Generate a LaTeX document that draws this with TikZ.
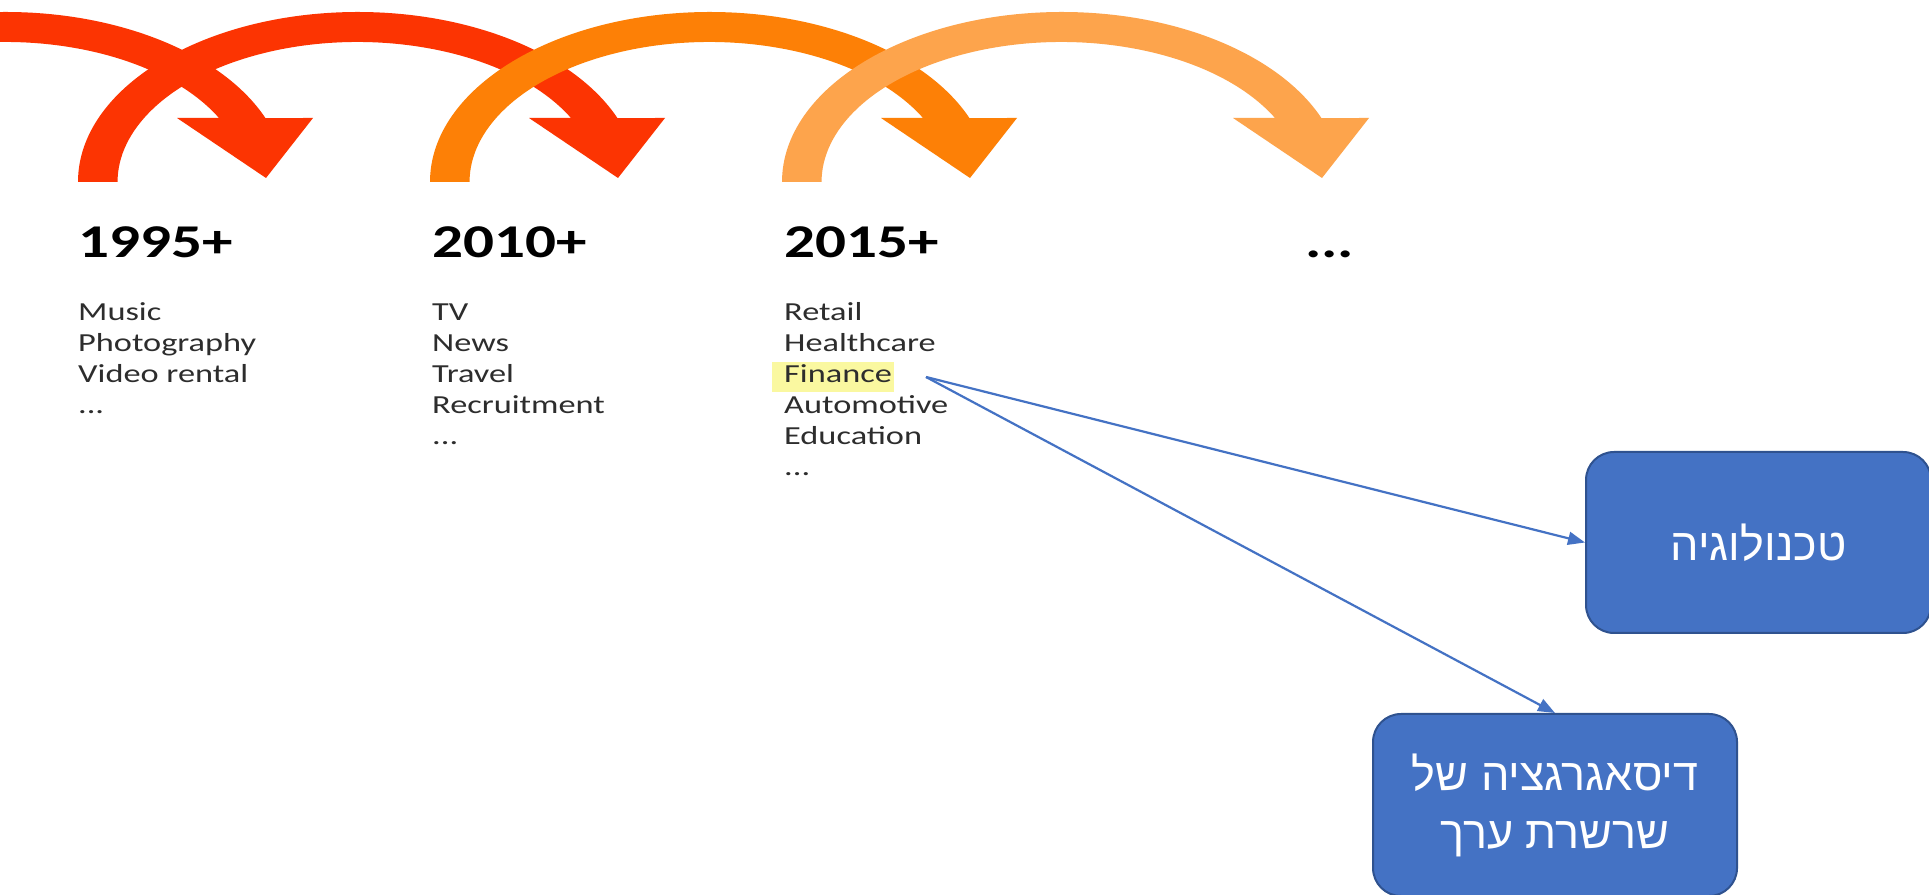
\documentclass[tikz,border=0pt]{standalone}
\usepackage{fontspec}
\usetikzlibrary{arrows.meta}
\TeXXeTstate=1
\newfontfamily\bodyfont[FakeStretch=1.32]{Carlito}
\newfontfamily\headfontfam[FakeStretch=1.3]{Carlito}
\newfontfamily\hebfont[Script=Hebrew]{Liberation Sans}
\definecolor{cred}{RGB}{252,52,2}
\definecolor{corange}{RGB}{253,128,6}
\definecolor{clight}{RGB}{253,164,76}
\definecolor{itemgray}{RGB}{45,45,45}
\definecolor{hl}{RGB}{250,248,160}
\definecolor{boxblue}{RGB}{68,114,196}
\definecolor{boxedge}{RGB}{47,82,143}
\tikzset{
  item/.style={anchor=base west, inner sep=0pt, text=itemgray, font=\bodyfont\fontsize{26}{31}\selectfont},
  head/.style={anchor=base west, inner sep=0pt, text=black, font=\headfontfam\bfseries\fontsize{47}{56}\selectfont},
  hebbox/.style={draw=boxedge, line width=2pt, fill=boxblue, rounded corners=28pt, text=white, align=center, font=\hebfont\fontsize{45}{58}\selectfont},
  conn/.style={draw=boxblue, line width=2.2pt, -{Triangle[length=17pt,width=13pt]}}
}
\newcommand{\curvearrow}[2]{%
  \fill[#2] (#1-20,712) arc[start angle=180,end angle=22.1,x radius=280,y radius=170]
    -- (#1+567,776) -- (#1+520,716) -- (#1+431,776) -- (#1+473,776)
    arc[start angle=27.2,end angle=180,x radius=240,y radius=140] -- cycle;}
\begin{document}
\begin{tikzpicture}[x=1pt,y=1pt]
\clip (0,0) rectangle (1929,894);
\fill[white] (0,0) rectangle (1929,894);
% curved arrows
\curvearrow{-254}{cred}
\curvearrow{98}{cred}
\curvearrow{450}{corange}
\curvearrow{802}{clight}
% headers
\node[head] (h1) at (78,636) {1995+};
\node[head] (h2) at (432,636) {2010+};
\node[head] (h3) at (784,636) {2015+};
\node[head] (h4) at (1305,636) {...};
% column 1
\node[item] (a1) at (78,573) {Music};
\node[item] (a2) at (78,542) {Photography};
\node[item] (a3) at (78,511) {Video rental};
\node[item] (a4) at (78,480) {...};
% column 2
\node[item] (b1) at (432,573) {TV};
\node[item] (b2) at (432,542) {News};
\node[item] (b3) at (432,511) {Travel};
\node[item] (b4) at (432,480) {Recruitment};
\node[item] (b5) at (432,449) {...};
% column 3
\fill[hl] (772,502) rectangle (894,532);
\node[item] (c1) at (784,573) {Retail};
\node[item] (c2) at (784,542) {Healthcare};
\node[item] (c3) at (784,511) {Finance};
\node[item] (c4) at (784,480) {Automotive};
\node[item] (c5) at (784,449) {Education};
\node[item] (c6) at (784,418) {...};
% boxes
\node[hebbox, minimum width=345pt, minimum height=181pt] (tech) at (1758.5,351.5) {\beginR טכנולוגיה\endR};
\node[hebbox, minimum width=364pt, minimum height=182pt] (disag) at (1555,89) {\beginR דיסאגרגציה של\endR\\\beginR שרשרת ערך\endR};
% connectors
\coordinate (src) at (926,517);
\draw[conn] (src) -- (tech.west);
\draw[conn] (src) -- (disag.north);
\end{tikzpicture}
\end{document}
